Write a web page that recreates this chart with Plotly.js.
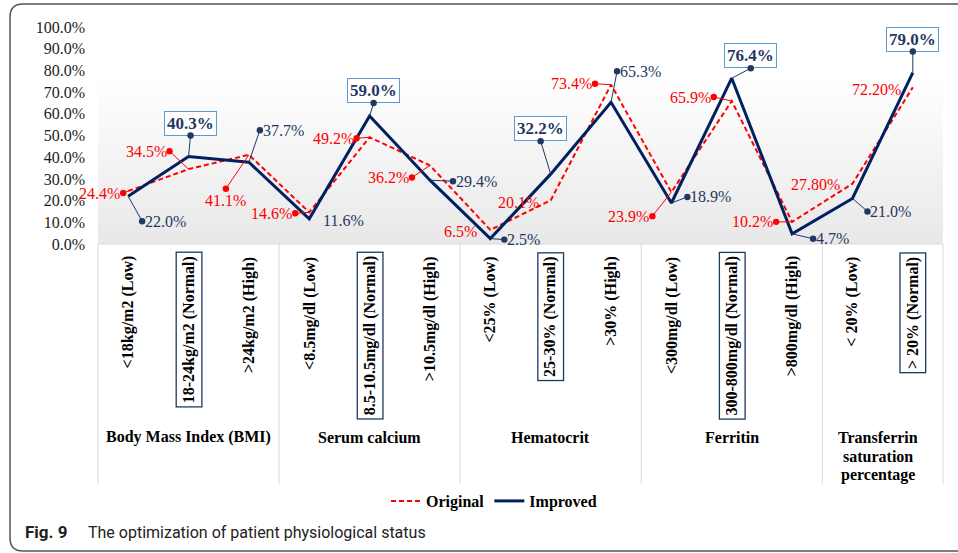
<!DOCTYPE html>
<html><head><meta charset="utf-8">
<script src="https://cdn.plot.ly/plotly-3.0.1.min.js"></script>
<style>html,body{margin:0;padding:0;background:#fff;}#chart{width:958px;height:553px;}</style>
</head><body><div id="chart"></div>
<script>
// ---------------- data ----------------
const categories = ['<18kg/m2 (Low)','18-24kg/m2 (Normal)','>24kg/m2 (High)',
  '<8.5mg/dl (Low)','8.5-10.5mg/dl (Normal)','>10.5mg/dl (High)',
  '<25% (Low)','25-30% (Normal)','>30% (High)',
  '<300mg/dl (Low)','300-800mg/dl (Normal)','>800mg/dl (High)',
  '< 20% (Low)','> 20% (Normal)'];
const groups = ['Body Mass Index (BMI)','Serum calcium','Hematocrit','Ferritin','Transferrin<br>saturation<br>percentage'];
const groupSizes = [3,3,3,3,2];
const original = [24.4,34.5,41.1,14.6,49.2,36.2,6.5,20.1,73.4,23.9,65.9,10.2,27.8,72.2];
const improved = [22.0,40.3,37.7,11.6,59.0,29.4,2.5,32.2,65.3,18.9,76.4,4.7,21.0,79.0];
const originalDecimals = [1,1,1,1,1,1,1,1,1,1,1,1,2,2];
const improvedDecimals = [1,1,1,1,1,1,1,1,1,1,1,1,1,1];
const yTicks = [0,10,20,30,40,50,60,70,80,90,100];
const captionLabel = 'Fig. 9';
const captionText = 'The optimization of patient physiological status';

// ---------------- layout helpers (pixel placement) ----------------
const W = 958, H = 553, ML = 98, MR = 15, MT = 27, MB = 309;
const PW = W - ML - MR, PH = H - MT - MB;
const px = v => (v - ML) / PW;      // pixel x -> paper
const py = v => (MT + PH - v) / PH; // pixel y -> paper

const RED = '#ff0000', NAVY = '#002060', NAVYTXT = '#1f3864', BOXBLUE = '#5b9bd5';
const SERIF = 'Liberation Serif, Times New Roman, serif';
const SANS = 'Roboto, Noto Sans, sans-serif';

// label placement (offsets of the leader dot from the point, in pixels)
const origPos = [
  {ax:-5, ay:2, xa:'right'}, {ax:-19, ay:-18, xa:'right'}, {ax:-23, ay:34, xa:'center', ya:'top'},
  {ax:-14, ay:1, xa:'right'}, {ax:-13, ay:1, xa:'right'}, {ax:-18, ay:12, xa:'right'},
  {ax:-10, ay:2, xa:'right', plain:true}, {ax:-9, ay:2, xa:'right', plain:true}, {ax:-16, ay:-1, xa:'right'},
  {ax:-19, ay:24, xa:'right'}, {ax:-18, ay:-4, xa:'right'}, {ax:-16, ay:0, xa:'right'},
  {ax:-9, ay:1, xa:'right', plain:true}, {ax:-9, ay:2, xa:'right', plain:true}
];
const impPos = [
  {ax:14, ay:25, xa:'left'}, {ax:2, ay:-21, xa:'center', ya:'bottom'}, {ax:11, ay:-32, xa:'left'},
  {ax:11, ay:2, xa:'left', plain:true}, {ax:4, ay:-13, xa:'center', ya:'bottom'}, {ax:23, ay:1, xa:'left'},
  {ax:14, ay:1, xa:'left'}, {ax:-10, ay:-33, xa:'center', ya:'bottom'}, {ax:6, ay:-31, xa:'left'},
  {ax:16, ay:-6, xa:'left'}, {ax:19, ay:-10, xa:'center', ya:'bottom'}, {ax:21, ay:5, xa:'left'},
  {ax:15, ay:13, xa:'left'}, {ax:0, ay:-21, xa:'center', ya:'bottom'}
];

const esc = s => s.replace(/</g,'&lt;').replace(/>/g,'&gt;');
const isNormal = c => c.indexOf('(Normal)') >= 0;

const annotations = [];
function dataLabel(i, val, dec, pos, color, boxed) {
  const a = {
    x: categories[i], y: val, xref:'x', yref:'y',
    text: (boxed ? '<b>' : '') + val.toFixed(dec) + '%' + (boxed ? '</b>' : ''),
    font: {family: SERIF, size: boxed ? 17 : 16, color: color},
    xanchor: pos.xa, yanchor: pos.ya || 'middle', borderpad: 2
  };
  if (boxed) { a.bordercolor = BOXBLUE; a.borderwidth = 1; a.bgcolor = '#ffffff'; }
  if (pos.plain) {
    a.showarrow = false; a.xshift = pos.ax; a.yshift = -pos.ay;
  } else {
    a.showarrow = true; a.ax = pos.ax; a.ay = pos.ay;
    a.arrowside = 'start'; a.startarrowhead = 6; a.startarrowsize = 1.6;
    a.arrowwidth = 1; a.arrowcolor = color; a.standoff = 0; a.startstandoff = 0;
  }
  annotations.push(a);
}
categories.forEach((c, i) => {
  dataLabel(i, original[i], originalDecimals[i], origPos[i], RED, false);
  dataLabel(i, improved[i], improvedDecimals[i], impPos[i], NAVYTXT, isNormal(c));
});

// rotated category labels
categories.forEach((c, i) => {
  annotations.push({
    x: c, xref:'x', y: py(252), yref:'paper', xanchor:'center', yanchor:'top',
    text: '<b>' + esc(c) + '</b>', textangle: -90, showarrow: false,
    font: {family: SERIF, size: 16, color: '#000'},
    borderpad: 3, borderwidth: 1.3,
    bordercolor: isNormal(c) ? NAVYTXT : 'rgba(0,0,0,0)'
  });
});

// group labels + dividers
const shapes = [];
let start = 0;
groups.forEach((g, k) => {
  const n = groupSizes[k];
  const lines = g.split('<br>');
  lines.forEach((ln, j) => {
    annotations.push({
      x: start + (n - 1) / 2, xref:'x', y: py(437 + j * 19), yref:'paper', xanchor:'center', yanchor:'middle',
      text: '<b>' + ln + '</b>', showarrow:false,
      xshift: lines.length > 1 ? -5 : 0,
      font: {family: SERIF, size: 16, color:'#000'}
    });
  });
  if (k > 0) shapes.push({type:'line', xref:'x', yref:'paper', x0:start-0.5, x1:start-0.5,
    y0: 0, y1: py(484), line:{color:'#d9d9d9', width:1}});
  start += n;
});
shapes.push({type:'line', xref:'paper', yref:'paper', x0:0, x1:0, y0:0, y1:py(484), line:{color:'#d9d9d9', width:1}});
shapes.push({type:'line', xref:'paper', yref:'paper', x0:1, x1:1, y0:0, y1:py(484), line:{color:'#d9d9d9', width:1}});
shapes.push({type:'line', xref:'paper', yref:'paper', x0:0, x1:1, y0:0, y1:0, line:{color:'#d9d9d9', width:1}});

// outer rounded frame (left, top, bottom)
const fp = (x, y) => px(x) + ',' + py(y);
shapes.push({type:'path', xref:'paper', yref:'paper',
  path: 'M' + fp(975,4) + ' L' + fp(23,4) + ' Q' + fp(10,4) + ' ' + fp(10,17) +
        ' L' + fp(10,538) + ' Q' + fp(10,551) + ' ' + fp(23,551) + ' L' + fp(975,551),
  line:{color:'#555555', width:1.5}});

// caption
annotations.push({xref:'paper', yref:'paper', x: px(23), y: py(532), xanchor:'left', yanchor:'middle',
  text:'<b>' + captionLabel + '</b>', showarrow:false, font:{family:SANS, size:17, color:'#222'}});
annotations.push({xref:'paper', yref:'paper', x: px(86), y: py(532), xanchor:'left', yanchor:'middle',
  text: captionText, showarrow:false, font:{family:SANS, size:16, color:'#222'}});

const bgSvg = "<svg xmlns='http://www.w3.org/2000/svg' width='100' height='100' preserveAspectRatio='none'>" +
  "<defs><linearGradient id='g' x1='0' y1='0' x2='0' y2='1'><stop offset='0' stop-color='#ffffff'/>" +
  "<stop offset='0.23' stop-color='#ffffff'/><stop offset='1' stop-color='#e8e8e8'/></linearGradient></defs>" +
  "<rect width='100' height='100' fill='url(#g)'/></svg>";

const traces = [
  {x: categories, y: original, name:'Original', type:'scatter', mode:'lines',
   line:{color:RED, width:2, dash:'5px,3px'}, hoverinfo:'skip'},
  {x: categories, y: improved, name:'Improved', type:'scatter', mode:'lines',
   line:{color:NAVY, width:3}, hoverinfo:'skip'}
];

const layout = {
  width: W, height: H, margin:{l:ML, r:MR, t:MT, b:MB, pad:0},
  paper_bgcolor:'#ffffff', plot_bgcolor:'rgba(0,0,0,0)',
  hovermode:false,
  xaxis:{type:'category', categoryorder:'array', categoryarray: categories,
    range:[-0.5, categories.length - 0.5], showticklabels:false, showgrid:false,
    zeroline:false, showline:false, ticks:'', fixedrange:true},
  yaxis:{range:[0,100], tickvals: yTicks, ticktext: yTicks.map(v => v.toFixed(1) + '%'),
    showgrid:false, zeroline:false, showline:false, ticks:'', ticklabelstandoff: 12,
    tickfont:{family:SERIF, size:16, color:'#1a1a1a'}, fixedrange:true},
  showlegend:true,
  legend:{orientation:'h', x: px(494), xanchor:'center', y: py(501), yanchor:'middle',
    font:{family:SERIF, size:16, color:'#000', weight:'bold'}, bgcolor:'rgba(0,0,0,0)',
    itemwidth:30, traceorder:'normal'},
  images:[{source:'data:image/svg+xml;charset=utf-8,' + encodeURIComponent(bgSvg),
    xref:'paper', yref:'paper', x:0, y:1, sizex:1, sizey:1, sizing:'stretch',
    xanchor:'left', yanchor:'top', layer:'below'}],
  shapes: shapes,
  annotations: annotations
};

Plotly.newPlot('chart', traces, layout, {displayModeBar:false, staticPlot:true});
</script>
</body></html>
